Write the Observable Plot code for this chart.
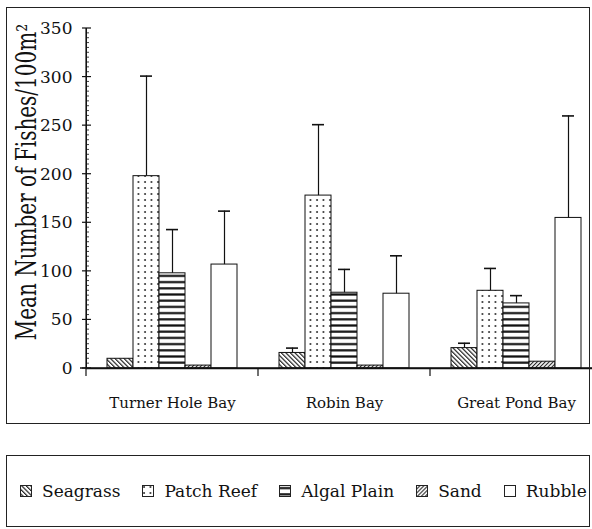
<!DOCTYPE html>
<html><head><meta charset="utf-8">
<script src="https://cdn.jsdelivr.net/npm/d3@7"></script>
<script src="https://cdn.jsdelivr.net/npm/@observablehq/plot@0.6"></script>
<style>
html,body{margin:0;padding:0;background:#fff;}
#wrap{position:relative;width:592px;height:529px;font-family:"DejaVu Serif",serif;color:#111;overflow:hidden;}
#chart{position:absolute;left:0;top:0;}
#frame{position:absolute;left:6px;top:7px;width:584px;height:417px;border:1px solid #222;box-sizing:border-box;pointer-events:none;}
#legend{position:absolute;left:6px;top:455px;width:584px;height:72px;border:1px solid #222;box-sizing:border-box;display:flex;align-items:center;padding-left:13px;gap:22px;font-size:17px;}
#legend .item{display:flex;align-items:center;white-space:nowrap;}
#legend .item svg{margin-right:10px;}
</style>
</head>
<body>
<div id="wrap">
  <div id="chart"></div>
  <div id="frame"></div>
  <div id="legend"></div>
</div>
<script>
// ---- data ----
const groups = ["Turner Hole Bay", "Robin Bay", "Great Pond Bay"];
const habitats = ["Seagrass", "Patch Reef", "Algal Plain", "Sand", "Rubble"];
const seagrass = [10, 16, 21];
const seagrassSE = [0, 5, 5];
const patchReef = [198, 178, 80];
const patchReefSE = [103, 73, 23];
const algalPlain = [98, 78, 67];
const algalPlainSE = [45, 24, 8];
const sand = [3, 3, 7];
const sandSE = [0, 0, 0];
const rubble = [107, 77, 155];
const rubbleSE = [55, 39, 105];
const yTicks = [0, 50, 100, 150, 200, 250, 300, 350];
const yLabel = "Mean Number of Fishes/100m²";

const series = [[seagrass, seagrassSE], [patchReef, patchReefSE], [algalPlain, algalPlainSE], [sand, sandSE], [rubble, rubbleSE]];
const fills = {
  "Seagrass": "url(#pat-seagrass)",
  "Patch Reef": "url(#pat-patch)",
  "Algal Plain": "url(#pat-algal)",
  "Sand": "url(#pat-sand)",
  "Rubble": "#ffffff"
};
const rows = groups.flatMap((g, i) => habitats.map((h, j) => ({
  group: g, habitat: h, value: series[j][0][i], se: series[j][1][i]
})));

const plot = Plot.plot({
  width: 592,
  height: 440,
  marginTop: 28,
  marginBottom: 72,
  marginLeft: 86,
  marginRight: 0,
  style: {fontFamily: '"DejaVu Serif", serif', fontSize: "17px", color: "#111", background: "transparent", overflow: "visible"},
  facet: {data: rows, x: "group"},
  fx: {domain: groups, range: [86, 602], padding: 0, axis: "bottom", tickSize: 0, tickPadding: 29, label: null},
  x: {domain: habitats, paddingInner: 0, paddingOuter: 0.7, axis: null},
  y: {domain: [0, 350], ticks: yTicks, tickSize: 0, tickPadding: 14, label: null, line: true},
  color: {type: "identity"},
  marks: [
    Plot.barY(rows, {x: "habitat", y: "value", fill: d => fills[d.habitat], stroke: "#111", strokeWidth: 1}),
    Plot.ruleX(rows, {filter: d => d.se > 0, x: "habitat", y1: "value", y2: d => d.value + d.se, stroke: "#111", strokeWidth: 1.2}),
    Plot.tickY(rows, {filter: d => d.se > 0, x: "habitat", y: d => d.value + d.se, stroke: "#111", strokeWidth: 1.6, insetLeft: 7, insetRight: 7}),
    Plot.ruleY([0], {stroke: "#111", strokeWidth: 1.6})
  ]
});
document.getElementById("chart").appendChild(plot);

const svg = d3.select(plot);
const defs = svg.insert("defs", ":first-child");
// Seagrass: "\\\" hatch
const p1 = defs.append("pattern").attr("id", "pat-seagrass").attr("patternUnits", "userSpaceOnUse")
  .attr("width", 3.2).attr("height", 3.2).attr("patternTransform", "rotate(-45)");
p1.append("rect").attr("width", 3.2).attr("height", 3.2).attr("fill", "#fff");
p1.append("line").attr("x1", 0.6).attr("x2", 0.6).attr("y1", 0).attr("y2", 3.2).attr("stroke", "#111").attr("stroke-width", 1.1);
// Patch reef: dots
const p2 = defs.append("pattern").attr("id", "pat-patch").attr("patternUnits", "userSpaceOnUse")
  .attr("width", 6.5).attr("height", 6);
p2.append("rect").attr("width", 6.5).attr("height", 6).attr("fill", "#fff");
p2.append("circle").attr("cx", 2).attr("cy", 2).attr("r", 0.9).attr("fill", "#111");
// Algal plain: horizontal bars
const p3 = defs.append("pattern").attr("id", "pat-algal").attr("patternUnits", "userSpaceOnUse")
  .attr("width", 8).attr("height", 6.2);
p3.append("rect").attr("width", 8).attr("height", 6.2).attr("fill", "#fff");
p3.append("rect").attr("y", 2).attr("width", 8).attr("height", 2.2).attr("fill", "#111");
// Sand: "///" hatch
const p4 = defs.append("pattern").attr("id", "pat-sand").attr("patternUnits", "userSpaceOnUse")
  .attr("width", 2.8).attr("height", 2.8).attr("patternTransform", "rotate(45)");
p4.append("rect").attr("width", 2.8).attr("height", 2.8).attr("fill", "#fff");
p4.append("line").attr("x1", 0.6).attr("x2", 0.6).attr("y1", 0).attr("y2", 2.8).attr("stroke", "#111").attr("stroke-width", 1);

// axis decorations using the plot's own scales
const y = plot.scale("y");
const fx = plot.scale("fx");
const axisX = fx.range[0];
const y0 = y.apply(0);
const deco = svg.append("g").attr("stroke", "#111").attr("fill", "none");
for (const v of d3.range(0, 351, 5)) {
  const major = v % 50 === 0;
  deco.append("line")
    .attr("x1", major ? axisX - 4 : axisX).attr("x2", major ? axisX + 5 : axisX + 3)
    .attr("y1", y.apply(v)).attr("y2", y.apply(v))
    .attr("stroke-width", major ? 1.2 : 0.8);
}
deco.append("line").attr("x1", axisX).attr("x2", axisX).attr("y1", y.apply(350)).attr("y2", y0).attr("stroke-width", 1.2);
for (const g of groups) {
  const gx = fx.apply(g);
  deco.append("line").attr("x1", gx).attr("x2", gx).attr("y1", y0).attr("y2", y0 + 8).attr("stroke-width", 1.2);
}
deco.append("line").attr("x1", axisX - 6).attr("x2", 592).attr("y1", y0).attr("y2", y0).attr("stroke-width", 1.6);

svg.selectAll('g[aria-label^="fx-axis"] text').attr("font-size", 15).style("font-size", "15px");

svg.append("text")
  .attr("transform", `translate(36,182) scale(1.35,1) rotate(-90)`)
  .attr("text-anchor", "middle")
  .attr("fill", "#111")
  .style("font-family", '"DejaVu Serif", serif')
  .style("font-size", "20px")
  .text(yLabel);

// legend
const legend = d3.select("#legend");
habitats.forEach(h => {
  const item = legend.append("div").attr("class", "item");
  const s = item.append("svg").attr("width", 12).attr("height", 12);
  s.append("rect").attr("x", 0.5).attr("y", 0.5).attr("width", 11).attr("height", 11)
    .attr("fill", fills[h]).attr("stroke", "#222").attr("stroke-width", 1);
  item.append("span").text(h);
});
</script>
</body></html>
